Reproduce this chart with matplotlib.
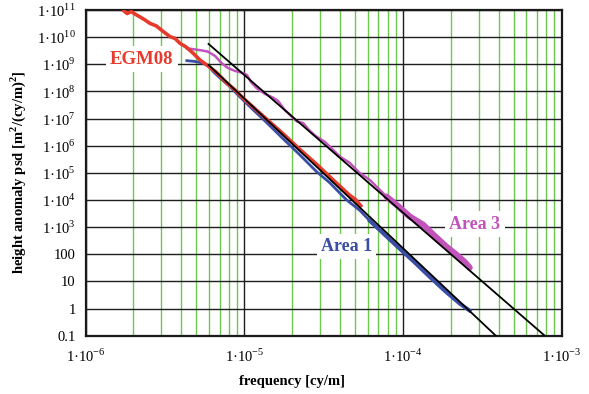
import matplotlib
matplotlib.use("Agg")
import matplotlib.pyplot as plt
from matplotlib.ticker import LogLocator, FixedLocator, NullLocator, FuncFormatter
import numpy as np

plt.rcParams['font.family'] = ['Liberation Serif', 'DejaVu Serif']
plt.rcParams['mathtext.fontset'] = 'custom'
plt.rcParams['mathtext.rm'] = 'Liberation Serif'
plt.rcParams['mathtext.bf'] = 'Liberation Serif:bold'

# ---------------- data ----------------
egm_f = [1.75e-6, 1.83e-6, 1.94e-6, 2.05e-6, 2.21e-6, 2.37e-6, 2.55e-6, 2.79e-6, 3.10e-6,
         3.41e-6, 3.67e-6, 3.94e-6, 4.30e-6, 4.75e-6, 5.26e-6, 5.91e-6, 6.64e-6, 7.75e-6,
         8.74e-6, 9.86e-6, 1.26e-5, 1.76e-5, 2.24e-5, 2.85e-5, 3.63e-5, 4.62e-5, 5.04e-5,
         5.42e-5]
egm_psd = [9.2e10, 7.4e10, 8.8e10, 7.1e10, 5.5e10, 4.3e10, 3.2e10, 2.6e10, 1.59e10,
           1.04e10, 8.9e9, 5.9e9, 4.35e9, 2.6e9, 1.44e9, 8.7e8, 5.2e8, 2.06e8,
           1.14e8, 5.6e7, 1.55e7, 2.73e6, 7.3e5, 2.1e5, 5.5e4, 1.49e4, 1.02e4,
           6.1e3]

area1_f = [4.35e-6, 4.90e-6, 5.52e-6, 5.94e-6, 6.38e-6, 7.03e-6, 8.13e-6, 9.39e-6, 1.14e-5,
           1.35e-5, 1.76e-5, 2.24e-5, 2.85e-5, 3.46e-5, 4.40e-5, 5.34e-5, 6.18e-5, 7.68e-5,
           9.53e-5, 1.19e-4, 1.47e-4, 1.83e-4, 2.28e-4, 2.63e-4]
area1_psd = [1.36e9, 1.27e9, 1.09e9, 9.06e8, 5.36e8, 3.14e8, 1.50e8, 6.28e7, 2.09e7,
             8.2e6, 1.79e6, 4.6e5, 1.12e5, 4.3e4, 1.02e4, 4.17e3, 1.71e3, 5.2e2,
             1.6e2, 48.8, 14.9, 4.55, 1.51, 0.84]

area3_f = [4.35e-6, 4.90e-6, 5.42e-6, 5.91e-6, 6.55e-6, 7.21e-6, 7.89e-6, 8.74e-6, 9.53e-6,
           1.04e-5, 1.10e-5, 1.20e-5, 1.35e-5, 1.51e-5, 1.63e-5, 1.80e-5, 2.14e-5, 2.35e-5,
           2.59e-5, 2.85e-5, 3.22e-5, 3.63e-5, 4.00e-5, 4.62e-5, 5.34e-5, 6.18e-5, 7.87e-5,
           9.27e-5, 1.10e-4, 1.34e-4, 1.58e-4, 1.87e-4, 2.21e-4, 2.44e-4, 2.63e-4]
area3_psd = [3.89e9, 3.52e9, 3.23e9, 2.92e9, 2.03e9, 1.09e9, 7.3e8, 5.7e8, 5.0e8,
             4.06e8, 2.24e8, 1.31e8, 8.1e7, 6.0e7, 4.5e7, 2.09e7, 7.9e6, 6.8e6,
             3.5e6, 2.17e6, 1.39e6, 7.0e5, 4.0e5, 2.34e5, 9.8e4, 5.5e4, 1.34e4,
             6.1e3, 2.47e3, 1.22e3, 4.8e2, 1.94e2, 88, 53, 32]

fit1_f = [5.96e-6, 1.0e-3]          # Area 1 power-law fit
fit1_psd = [9.46e8, 5.15e-4]
fit3_f = [5.96e-6, 1.0e-3]          # Area 3 power-law fit
fit3_psd = [5.61e9, 2.87e-2]

x_ticks = [1e-6, 1e-5, 1e-4, 1e-3]
x_tick_labels = [r'1·10$^{-6}$', r'1·10$^{-5}$', r'1·10$^{-4}$', r'1·10$^{-3}$']
y_ticks = [1e-1, 1e0, 1e1, 1e2, 1e3, 1e4, 1e5, 1e6, 1e7, 1e8, 1e9, 1e10, 1e11]
y_tick_labels = ['0.1', '1', '10', '100', r'1·10$^{3}$', r'1·10$^{4}$', r'1·10$^{5}$',
                 r'1·10$^{6}$', r'1·10$^{7}$', r'1·10$^{8}$', r'1·10$^{9}$',
                 r'1·10$^{10}$', r'1·10$^{11}$']

# ---------------- styling ----------------
RED = '#e63a2c'
BLUE = '#3a4ea6'
MAG = '#c253bb'
GREEN = '#6cc94e'

W, H = 589, 394
fig = plt.figure(figsize=(W / 100, H / 100), dpi=100)
L, R, T, B = 85.5, 561.7, 10.0, 335.7
ax = fig.add_axes([L / W, 1 - B / H, (R - L) / W, (B - T) / H])
ax.set_xscale('log')
ax.set_yscale('log')
ax.set_xlim(1e-6, 1e-3)
ax.set_ylim(1e-1, 1e11)

ax.xaxis.set_major_locator(FixedLocator(x_ticks))
ax.xaxis.set_major_formatter(FuncFormatter(lambda v, p: x_tick_labels[x_ticks.index(v)] if v in x_ticks else ''))
ax.xaxis.set_minor_locator(LogLocator(base=10, subs=np.arange(2, 10), numticks=20))
ax.yaxis.set_major_locator(FixedLocator(y_ticks))
ax.yaxis.set_major_formatter(FuncFormatter(lambda v, p: y_tick_labels[y_ticks.index(v)] if v in y_ticks else ''))
ax.yaxis.set_minor_locator(NullLocator())

ax.tick_params(axis='both', which='both', length=0, labelsize=10.5)
ax.tick_params(axis='x', pad=9)
ax.tick_params(axis='y', pad=7)

ax.grid(True, which='major', axis='both', color='#1e1e1e', lw=1.0)
ax.grid(True, which='minor', axis='x', color=GREEN, lw=1.0)
ax.set_axisbelow(True)
for s in ax.spines.values():
    s.set_color('#1a1a1a')
    s.set_linewidth(1.6)

# curves
ax.plot(area3_f, area3_psd, color=MAG, lw=1.8, zorder=4, solid_joinstyle='round')
ax.plot(area3_f[-9:], area3_psd[-9:], color=MAG, lw=4.5, zorder=4, solid_capstyle='round')
ax.plot(area1_f, area1_psd, color=BLUE, lw=2.0, zorder=4)
ax.plot(area1_f[-8:], area1_psd[-8:], color=BLUE, lw=2.8, zorder=4)
ax.plot(egm_f, egm_psd, color=RED, lw=2.6, zorder=5)
ax.plot(fit1_f, fit1_psd, color='black', lw=1.3, zorder=6)
ax.plot(fit3_f, fit3_psd, color='black', lw=1.3, zorder=6)

box = dict(facecolor='white', edgecolor='none', pad=3)
ax.text(2.26e-6, 1.55e9, 'EGM08', color=RED, fontsize=13.5, fontweight='bold',
        ha='center', va='center', bbox=box, zorder=3)
ax.text(4.4e-5, 1.95e2, 'Area 1', color=BLUE, fontsize=13, fontweight='bold',
        ha='center', va='center', bbox=box, zorder=3)
ax.text(2.84e-4, 1.3e3, 'Area 3', color=MAG, fontsize=13, fontweight='bold',
        ha='center', va='center', bbox=box, zorder=3)

fig.text(292 / W, 1 - 381 / H, 'frequency [cy/m]', fontsize=10.5, fontweight='bold',
         ha='center', va='center')
fig.text(18 / W, 1 - 172 / H, r'height anomaly psd [m$^{\mathbf{2}}$/(cy/m)$^{\mathbf{2}}$]',
         fontsize=10.5, fontweight='bold', rotation=90, ha='center', va='center')

fig.savefig('out.png', dpi=100)
